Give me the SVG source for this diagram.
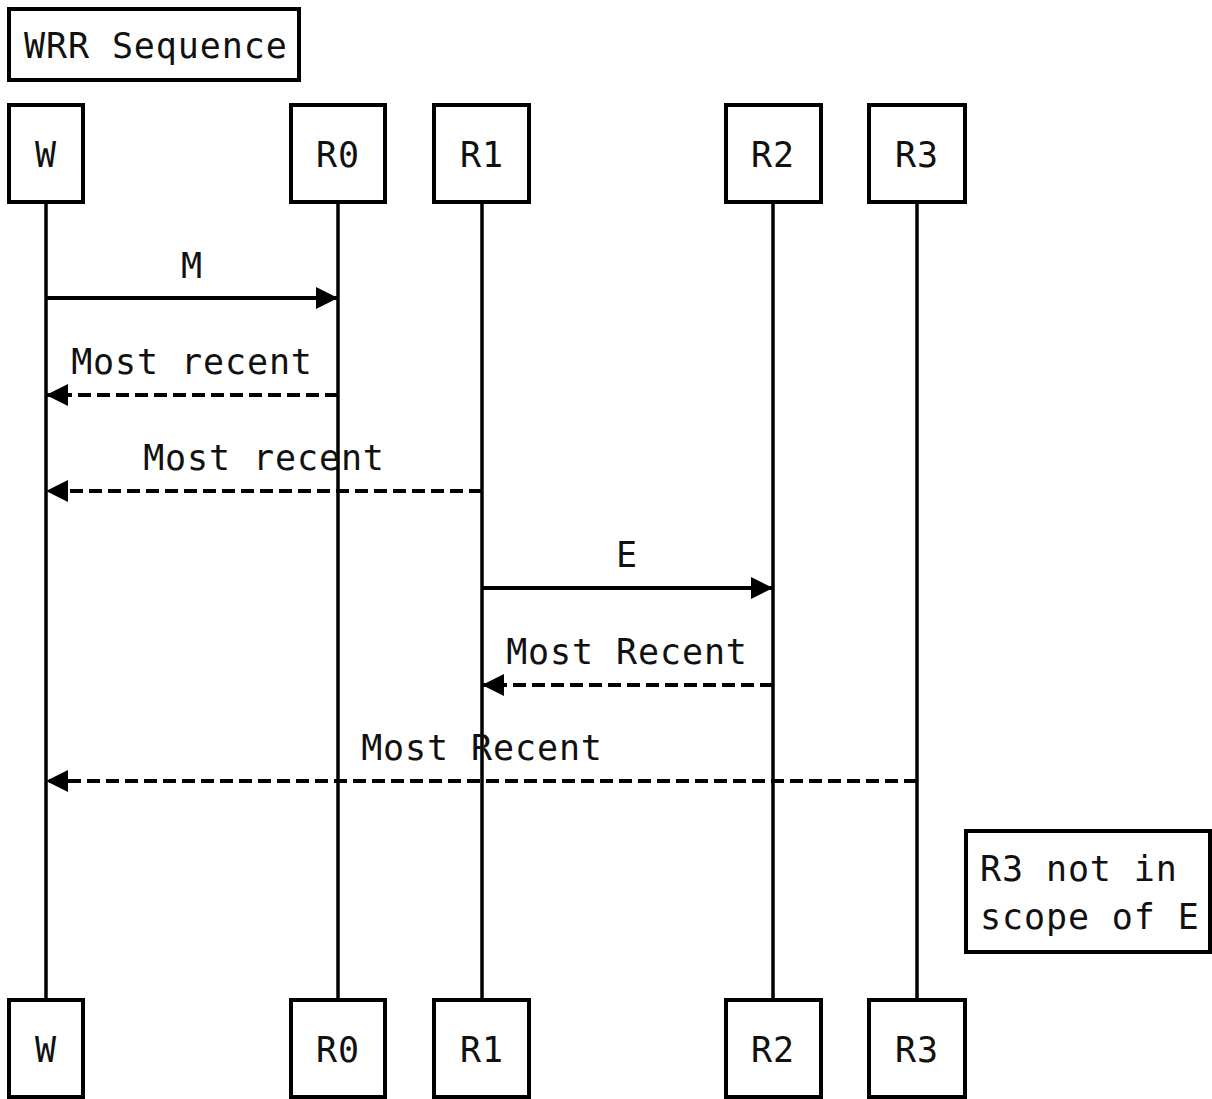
<svg xmlns="http://www.w3.org/2000/svg" width="1212" height="1099" viewBox="0 0 1212 1099">
<style>
text{font-family:"DejaVu Sans Mono","Liberation Mono",monospace;font-size:35px;letter-spacing:0.9px;fill:#111}
.box{fill:#fff;stroke:#000;stroke-width:4}
.life{stroke:#000;stroke-width:3.5}
.msg{stroke:#000;stroke-width:3.8;fill:none}
.dash{stroke-dasharray:13 6}
.c{text-anchor:middle}
</style>
<defs>
<marker id="ah" markerWidth="24" markerHeight="22" refX="22" refY="11" orient="auto" markerUnits="userSpaceOnUse">
<path d="M0,0 L22,11 L0,22 Z" fill="#000"/>
</marker>
</defs>
<g id="title"><rect class="box" x="9" y="9" width="290" height="71"/><text x="24" y="58">WRR Sequence</text></g>
<g id="lifelines">
<line class="life" x1="46" y1="202" x2="46" y2="1000"/>
<line class="life" x1="338" y1="202" x2="338" y2="1000"/>
<line class="life" x1="482" y1="202" x2="482" y2="1000"/>
<line class="life" x1="773" y1="202" x2="773" y2="1000"/>
<line class="life" x1="917" y1="202" x2="917" y2="1000"/>
</g>
<g id="W"><rect class="box" x="9" y="105" width="74" height="97"/><text class="c" x="46" y="167">W</text><rect class="box" x="9" y="1000" width="74" height="97"/><text class="c" x="46" y="1062">W</text></g>
<g id="R0"><rect class="box" x="291" y="105" width="94" height="97"/><text class="c" x="338" y="167">R0</text><rect class="box" x="291" y="1000" width="94" height="97"/><text class="c" x="338" y="1062">R0</text></g>
<g id="R1"><rect class="box" x="434" y="105" width="95" height="97"/><text class="c" x="482" y="167">R1</text><rect class="box" x="434" y="1000" width="95" height="97"/><text class="c" x="482" y="1062">R1</text></g>
<g id="R2"><rect class="box" x="726" y="105" width="95" height="97"/><text class="c" x="773" y="167">R2</text><rect class="box" x="726" y="1000" width="95" height="97"/><text class="c" x="773" y="1062">R2</text></g>
<g id="R3"><rect class="box" x="869" y="105" width="96" height="97"/><text class="c" x="917" y="167">R3</text><rect class="box" x="869" y="1000" width="96" height="97"/><text class="c" x="917" y="1062">R3</text></g>
<g id="connectors">
<line class="msg" x1="46" y1="298" x2="338" y2="298" marker-end="url(#ah)"/>
<text class="c" x="192" y="278">M</text>
<line class="msg dash" x1="338" y1="395" x2="46" y2="395" marker-end="url(#ah)"/>
<text class="c" x="192" y="374">Most recent</text>
<line class="msg dash" x1="482" y1="491" x2="46" y2="491" marker-end="url(#ah)"/>
<text class="c" x="264" y="470">Most recent</text>
<line class="msg" x1="482" y1="588" x2="773" y2="588" marker-end="url(#ah)"/>
<text class="c" x="627" y="567">E</text>
<line class="msg dash" x1="773" y1="685" x2="482" y2="685" marker-end="url(#ah)"/>
<text class="c" x="627" y="664">Most Recent</text>
<line class="msg dash" x1="917" y1="781" x2="46" y2="781" marker-end="url(#ah)"/>
<text class="c" x="482" y="760">Most Recent</text>
</g>
<g id="note"><rect class="box" x="966" y="831" width="244" height="121"/><text x="980" y="881">R3 not in</text><text x="980" y="929">scope of E</text></g>
</svg>
